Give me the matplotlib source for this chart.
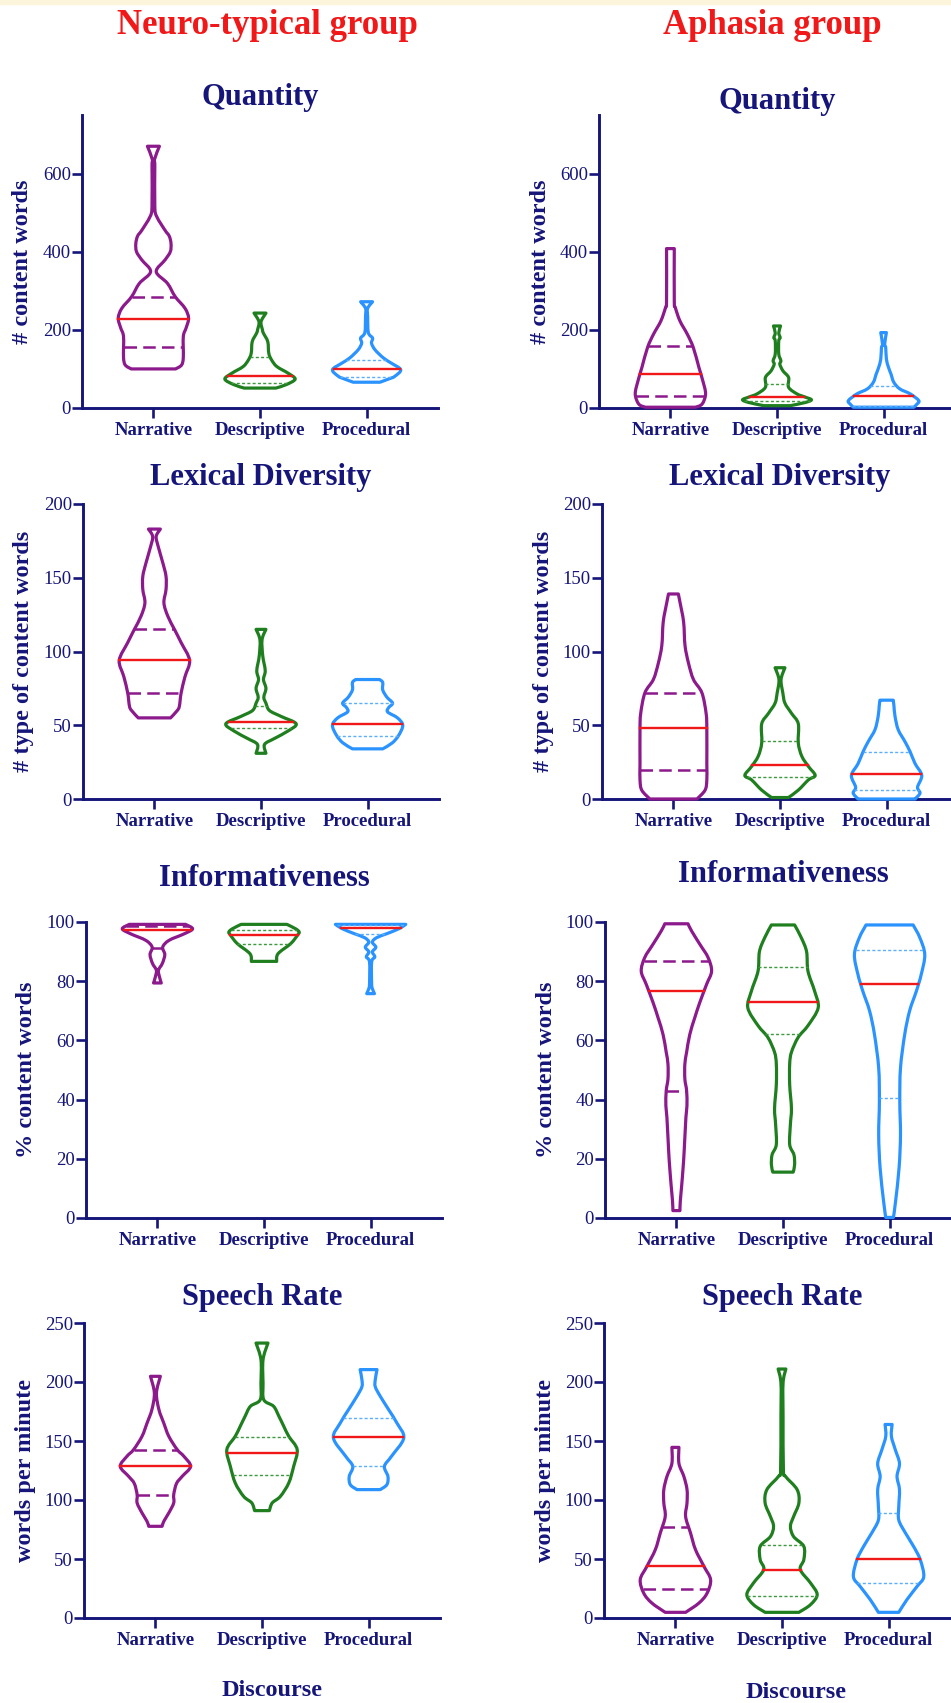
import numpy as np
import matplotlib.pyplot as plt
from matplotlib.patches import PathPatch, Rectangle
from matplotlib.path import Path

plt.rcParams['font.family'] = ['Liberation Serif', 'DejaVu Serif']

W, H = 951, 1703
NAVY = '#15157a'
RED = '#f01818'
PURPLE = '#8c1a8c'
GREEN = '#1f7f1f'
BLUE = '#2a93ff'
GREEN_Q = '#3c9a3c'
BLUE_Q = '#5aaefc'

categories = ['Narrative', 'Descriptive', 'Procedural']

# violin outlines: (value, relative half-width), min -> max
nt_qty_narr = [(100, .63), (110, .80), (130, .85), (183, .85), (205, .93), (230, 1.0), (255, .9),
               (285, .62), (319, .40), (349, .08), (379, .33), (400, .48), (421, .5), (440, .45),
               (455, .33), (489, .1), (515, .04), (620, .04), (636, .03), (670, .17)]
nt_qty_desc = [(51, .45), (60, .75), (74, 1.0), (89, .8), (106, .48), (123, .33), (140, .25),
               (170, .22), (191, .1), (200, .07), (221, .03), (243, .17)]
nt_qty_proc = [(66, .38), (75, .65), (81, .8), (98, .97), (115, .7), (128, .48), (149, .24),
               (166, .14), (179, .17), (193, .05), (234, .03), (255, .03), (272, .17)]
ap_qty_narr = [(2, .71), (10, .9), (36, 1.0), (70, .92), (104, .81), (155, .65), (189, .48),
               (223, .27), (257, .14), (274, .11), (408, .11)]
ap_qty_desc = [(6, .38), (14, .8), (21, .98), (28, .8), (36, .57), (53, .33), (78, .33), (95, .17),
               (112, .08), (121, .11), (138, .05), (172, .05), (180, .09), (192, .05), (210, .1)]
ap_qty_proc = [(2, .86), (10, .95), (19, 1.0), (36, .76), (49, .46), (66, .29), (87, .21),
               (104, .14), (125, .08), (155, .06), (163, .03), (193, .08)]

nt_lex_narr = [(55, .46), (60, .65), (63, .71), (72, .76), (83, .87), (94, 1.0), (106, .76),
               (115, .57), (124, .38), (133, .27), (142, .33), (151, .33), (160, .24), (171, .11),
               (178, .05), (183, .17)]
nt_lex_desc = [(31, .14), (37, .1), (41, .38), (46, .76), (51, 1.0), (56, .57), (60, .24), (65, .14),
               (69, .08), (75, .14), (81, .07), (87, .12), (97, .05), (108, .03), (115, .14)]
nt_lex_proc = [(34, .43), (38, .7), (43, .88), (50, 1.0), (55, .85), (59, .57), (62, .6), (65, .71),
               (69, .55), (74, .43), (79, .43), (81, .34)]
ap_lex_narr = [(0, .67), (6, .9), (13, .95), (24, .95), (47, .95), (58, .93), (72, .81), (81, .57),
               (92, .43), (104, .33), (120, .29), (133, .19), (139, .14)]
ap_lex_desc = [(1, .24), (6, .52), (13, .81), (16, 1.0), (22, .81), (29, .62), (38, .52), (51, .52),
               (58, .33), (65, .14), (72, .08), (81, .03), (89, .14)]
ap_lex_proc = [(0, .81), (4, .95), (8, .88), (16, 1.0), (24, .81), (32, .67), (39, .52), (47, .33),
               (56, .24), (63, .21), (67, .19)]

nt_inf_narr = [(79.4, .11), (81.4, .06), (83.7, .03), (86, .14), (89, .21), (91.5, .15), (93.8, .33),
               (96, .76), (97.7, 1.0), (99.2, .8)]
nt_inf_desc = [(86.7, .36), (89.3, .4), (92.7, .76), (95.5, .95), (96.6, 1.0), (97.7, .9), (99.2, .65)]
nt_inf_proc = [(75.8, .11), (77.5, .05), (79.2, .03), (86.5, .03), (88.2, .12), (89.9, .05),
               (91.5, .15), (93.2, .05), (94.7, .17), (96, .45), (97.7, .8), (99.2, 1.0)]
ap_inf_narr = [(2.5, .1), (5.6, .11), (11, .15), (17, .19), (22.5, .22), (34, .27), (38, .3),
               (43, .29), (47, .24), (52, .24), (56, .29), (62, .38), (67.6, .52), (73, .67),
               (79, .86), (83.4, 1.0), (88, .9), (92.4, .67), (97, .43), (99.4, .33)]
ap_inf_desc = [(15.5, .29), (18, .33), (21.4, .31), (24.8, .19), (31.6, .21), (37, .24), (45, .19),
               (52, .19), (56, .24), (61, .43), (65, .71), (71, 1.0), (76.6, .9), (83.4, .71),
               (90, .67), (94.7, .52), (99, .33)]
ap_inf_proc = [(0.2, .11), (5.6, .17), (17, .27), (28, .31), (39.4, .29), (50.7, .31), (62, .43),
               (70, .57), (76.6, .76), (82.3, .9), (89, 1.0), (94.7, .86), (99, .67)]

nt_sr_narr = [(77.7, .19), (82, .24), (89, .38), (97.5, .52), (104.5, .52), (114, .6), (120, .76),
              (128.5, 1.0), (137, .81), (142.7, .62), (154, .38), (165, .24), (176.6, .1),
              (190.7, .03), (204.8, .14)]
nt_sr_desc = [(91, .21), (97.5, .29), (103, .52), (114.4, .76), (128.5, .9), (142.7, 1.0), (154, .76),
              (162.4, .62), (171, .48), (179.4, .33), (185, .05), (199, .03), (219, .03), (233, .17)]
nt_sr_proc = [(108.8, .33), (113, .52), (120, .55), (128.5, .45), (137, .65), (152.5, 1.0),
              (165, .81), (176.6, .57), (188, .33), (196, .19), (202, .19), (210.5, .24)]
ap_sr_narr = [(4.8, .29), (12.7, .67), (21, .9), (32.5, 1.0), (43.8, .81), (58, .57), (72, .43),
              (86, .29), (97.5, .33), (108.8, .33), (120, .24), (131, .1), (144.6, .1)]
ap_sr_desc = [(4.8, .48), (11.3, .81), (19.8, 1.0), (29.7, .81), (41, .52), (49.4, .62), (60.7, .62),
              (69, .33), (77.7, .24), (86, .33), (97.5, .48), (108.8, .43), (120, .1), (125.7, .04),
              (171, .03), (199, .03), (211, .11)]
ap_sr_proc = [(4.8, .29), (15.5, .52), (26.8, .81), (35, 1.0), (49.4, .9), (60.7, .71), (72, .48),
              (83, .29), (94.6, .29), (108.8, .31), (120, .24), (131, .31), (142.7, .19), (154, .08),
              (164, .1)]

# median, first and third quartile per category
nt_qty_med, nt_qty_q1, nt_qty_q3 = [229, 81, 100], [155, 64, 79], [285, 130, 122]
ap_qty_med, ap_qty_q1, ap_qty_q3 = [87, 29, 30], [30, 19, 6], [159, 61, 57]
nt_lex_med, nt_lex_q1, nt_lex_q3 = [94, 52, 51], [72, 48, 43], [115, 63, 65]
ap_lex_med, ap_lex_q1, ap_lex_q3 = [48, 23, 17], [20, 15, 6], [72, 39, 32]
nt_inf_med, nt_inf_q1, nt_inf_q3 = [97.4, 95.7, 98.1], [91.3, 92.7, 96], [98.5, 97.2, 98.9]
ap_inf_med, ap_inf_q1, ap_inf_q3 = [76.6, 72.9, 78.9], [42.8, 62, 40.6], [86.8, 84.8, 90.7]
nt_sr_med, nt_sr_q1, nt_sr_q3 = [128.5, 139.8, 153.4], [104.5, 121, 128.5], [142.7, 153, 169.5]
ap_sr_med, ap_sr_q1, ap_sr_q3 = [43.8, 40.4, 50], [24.6, 19, 30], [76.8, 61.9, 89]

titles = ['Quantity', 'Lexical Diversity', 'Informativeness', 'Speech Rate']
ylabels = ['# content words', '# type of content words', '% content words', 'words per minute']
ylims = [750, 200, 100, 250]
yticks = [np.arange(0, 601, 200), np.arange(0, 201, 50), np.arange(0, 101, 20), np.arange(0, 251, 50)]

panels = {
    (0, 0): ([nt_qty_narr, nt_qty_desc, nt_qty_proc], nt_qty_med, nt_qty_q1, nt_qty_q3),
    (0, 1): ([ap_qty_narr, ap_qty_desc, ap_qty_proc], ap_qty_med, ap_qty_q1, ap_qty_q3),
    (1, 0): ([nt_lex_narr, nt_lex_desc, nt_lex_proc], nt_lex_med, nt_lex_q1, nt_lex_q3),
    (1, 1): ([ap_lex_narr, ap_lex_desc, ap_lex_proc], ap_lex_med, ap_lex_q1, ap_lex_q3),
    (2, 0): ([nt_inf_narr, nt_inf_desc, nt_inf_proc], nt_inf_med, nt_inf_q1, nt_inf_q3),
    (2, 1): ([ap_inf_narr, ap_inf_desc, ap_inf_proc], ap_inf_med, ap_inf_q1, ap_inf_q3),
    (3, 0): ([nt_sr_narr, nt_sr_desc, nt_sr_proc], nt_sr_med, nt_sr_q1, nt_sr_q3),
    (3, 1): ([ap_sr_narr, ap_sr_desc, ap_sr_proc], ap_sr_med, ap_sr_q1, ap_sr_q3),
}

# layout in pixels
row_tb = [(115, 408), (504, 799), (922, 1218), (1323, 1618)]
col_x0 = [[82, 599], [83, 602], [86, 605], [84, 604]]
AX_W = 356
title_y = [[98, 101], [477, 477], [878, 875], [1297, 1297]]
HALF = 0.33

colors = [PURPLE, GREEN, BLUE]
qcolors = [PURPLE, GREEN_Q, BLUE_Q]

fig = plt.figure(figsize=(W / 100, H / 100), dpi=100)
fig.patches.append(Rectangle((0, 1 - 4 / H), 1, 4 / H, transform=fig.transFigure,
                             color='#fcf5dc', zorder=0))


def smooth_side(pts):
    # cubic bezier pieces through the outline points (Catmull-Rom style handles)
    verts, codes = [], []
    n = len(pts)
    for k in range(n - 1):
        p0 = pts[max(k - 1, 0)]
        p1, p2 = pts[k], pts[k + 1]
        p3 = pts[min(k + 2, n - 1)]
        c1 = p1 + (p2 - p0) / 6.0
        c2 = p2 - (p3 - p1) / 6.0
        verts += [c1, c2, p2]
        codes += [Path.CURVE4] * 3
    return verts, codes


def draw_violin(ax, pos, prof, med, q1, q3, i):
    v = np.array([p[0] for p in prof], dtype=float)
    w = np.array([p[1] for p in prof]) * HALF
    # work in display-like units so the handles are not skewed by the axis scales
    sx = 1.0 / HALF
    sy = 1.0 / (v.max() - v.min() + 1e-9) * 6
    right = np.column_stack([(pos + w) * sx, v * sy])
    left = np.column_stack([(pos - w) * sx, v * sy])[::-1]
    verts = [left[-1], right[0]]
    codes = [Path.MOVETO, Path.LINETO]
    rv, rc = smooth_side(right)
    verts += rv
    codes += rc
    verts.append(left[0])
    codes.append(Path.LINETO)
    lv, lc = smooth_side(left)
    verts += lv
    codes += lc
    verts.append(left[-1])
    codes.append(Path.CLOSEPOLY)
    verts = np.array(verts) / np.array([sx, sy])
    ax.add_patch(PathPatch(Path(verts, codes), fill=False, edgecolor=colors[i], lw=2.3,
                           joinstyle='round', clip_on=False, zorder=3))
    for q in (q1, q3):
        hw = np.interp(q, v, w)
        if i == 0:
            ax.plot([pos - hw, pos + hw], [q, q], color=qcolors[i], lw=1.8, dashes=(5, 2.5),
                    solid_capstyle='butt', zorder=3)
        else:
            ax.plot([pos - hw, pos + hw], [q, q], color=qcolors[i], lw=1.0, dashes=(2.2, 1.6),
                    zorder=3)
    hw = np.interp(med, v, w)
    ax.plot([pos - hw, pos + hw], [med, med], color=RED, lw=1.7, zorder=4)


for r in range(4):
    top, bot = row_tb[r]
    for c in range(2):
        x0 = col_x0[r][c]
        ax = fig.add_axes([x0 / W, 1 - bot / H, AX_W / W, (bot - top) / H])
        profs, med, q1, q3 = panels[(r, c)]
        for i, prof in enumerate(profs):
            draw_violin(ax, i + 1, prof, med[i], q1[i], q3[i], i)
        ax.set_xlim(0.33, 3.67)
        ax.set_ylim(0, ylims[r])
        ax.set_yticks(yticks[r])
        ax.set_xticks([1, 2, 3])
        ax.set_xticklabels(categories, fontsize=13.5, fontweight='bold', color=NAVY)
        for lab in ax.get_yticklabels():
            lab.set_fontsize(13.5)
            lab.set_color(NAVY)
        for s in ['top', 'right']:
            ax.spines[s].set_visible(False)
        for s in ['left', 'bottom']:
            ax.spines[s].set_color(NAVY)
            ax.spines[s].set_linewidth(2.1)
        ax.tick_params(axis='both', direction='out', length=7, width=1.9, color=NAVY)
        ax.tick_params(axis='y', pad=1)
        ax.tick_params(axis='x', pad=3)
        ax.patch.set_alpha(0)
        ax.text(-59 / AX_W, 0.5, ylabels[r], transform=ax.transAxes, rotation=90,
                ha='center', va='center', fontsize=17.5, fontweight='bold', color=NAVY)
        cx = x0 + AX_W / 2
        fig.text(cx / W, 1 - title_y[r][c] / H, titles[r], ha='center', va='center',
                 fontsize=22, fontweight='bold', color=NAVY)

fig.text(267 / W, 1 - 25 / H, 'Neuro-typical group', ha='center', va='center',
         fontsize=25, fontweight='bold', color=RED)
fig.text(772 / W, 1 - 25 / H, 'Aphasia group', ha='center', va='center',
         fontsize=25, fontweight='bold', color=RED)
fig.text(272 / W, 1 - 1691 / H, 'Discourse', ha='center', va='center',
         fontsize=17.5, fontweight='bold', color=NAVY)
fig.text(796 / W, 1 - 1692 / H, 'Discourse', ha='center', va='center',
         fontsize=17.5, fontweight='bold', color=NAVY)

fig.savefig('out.png', dpi=100)
